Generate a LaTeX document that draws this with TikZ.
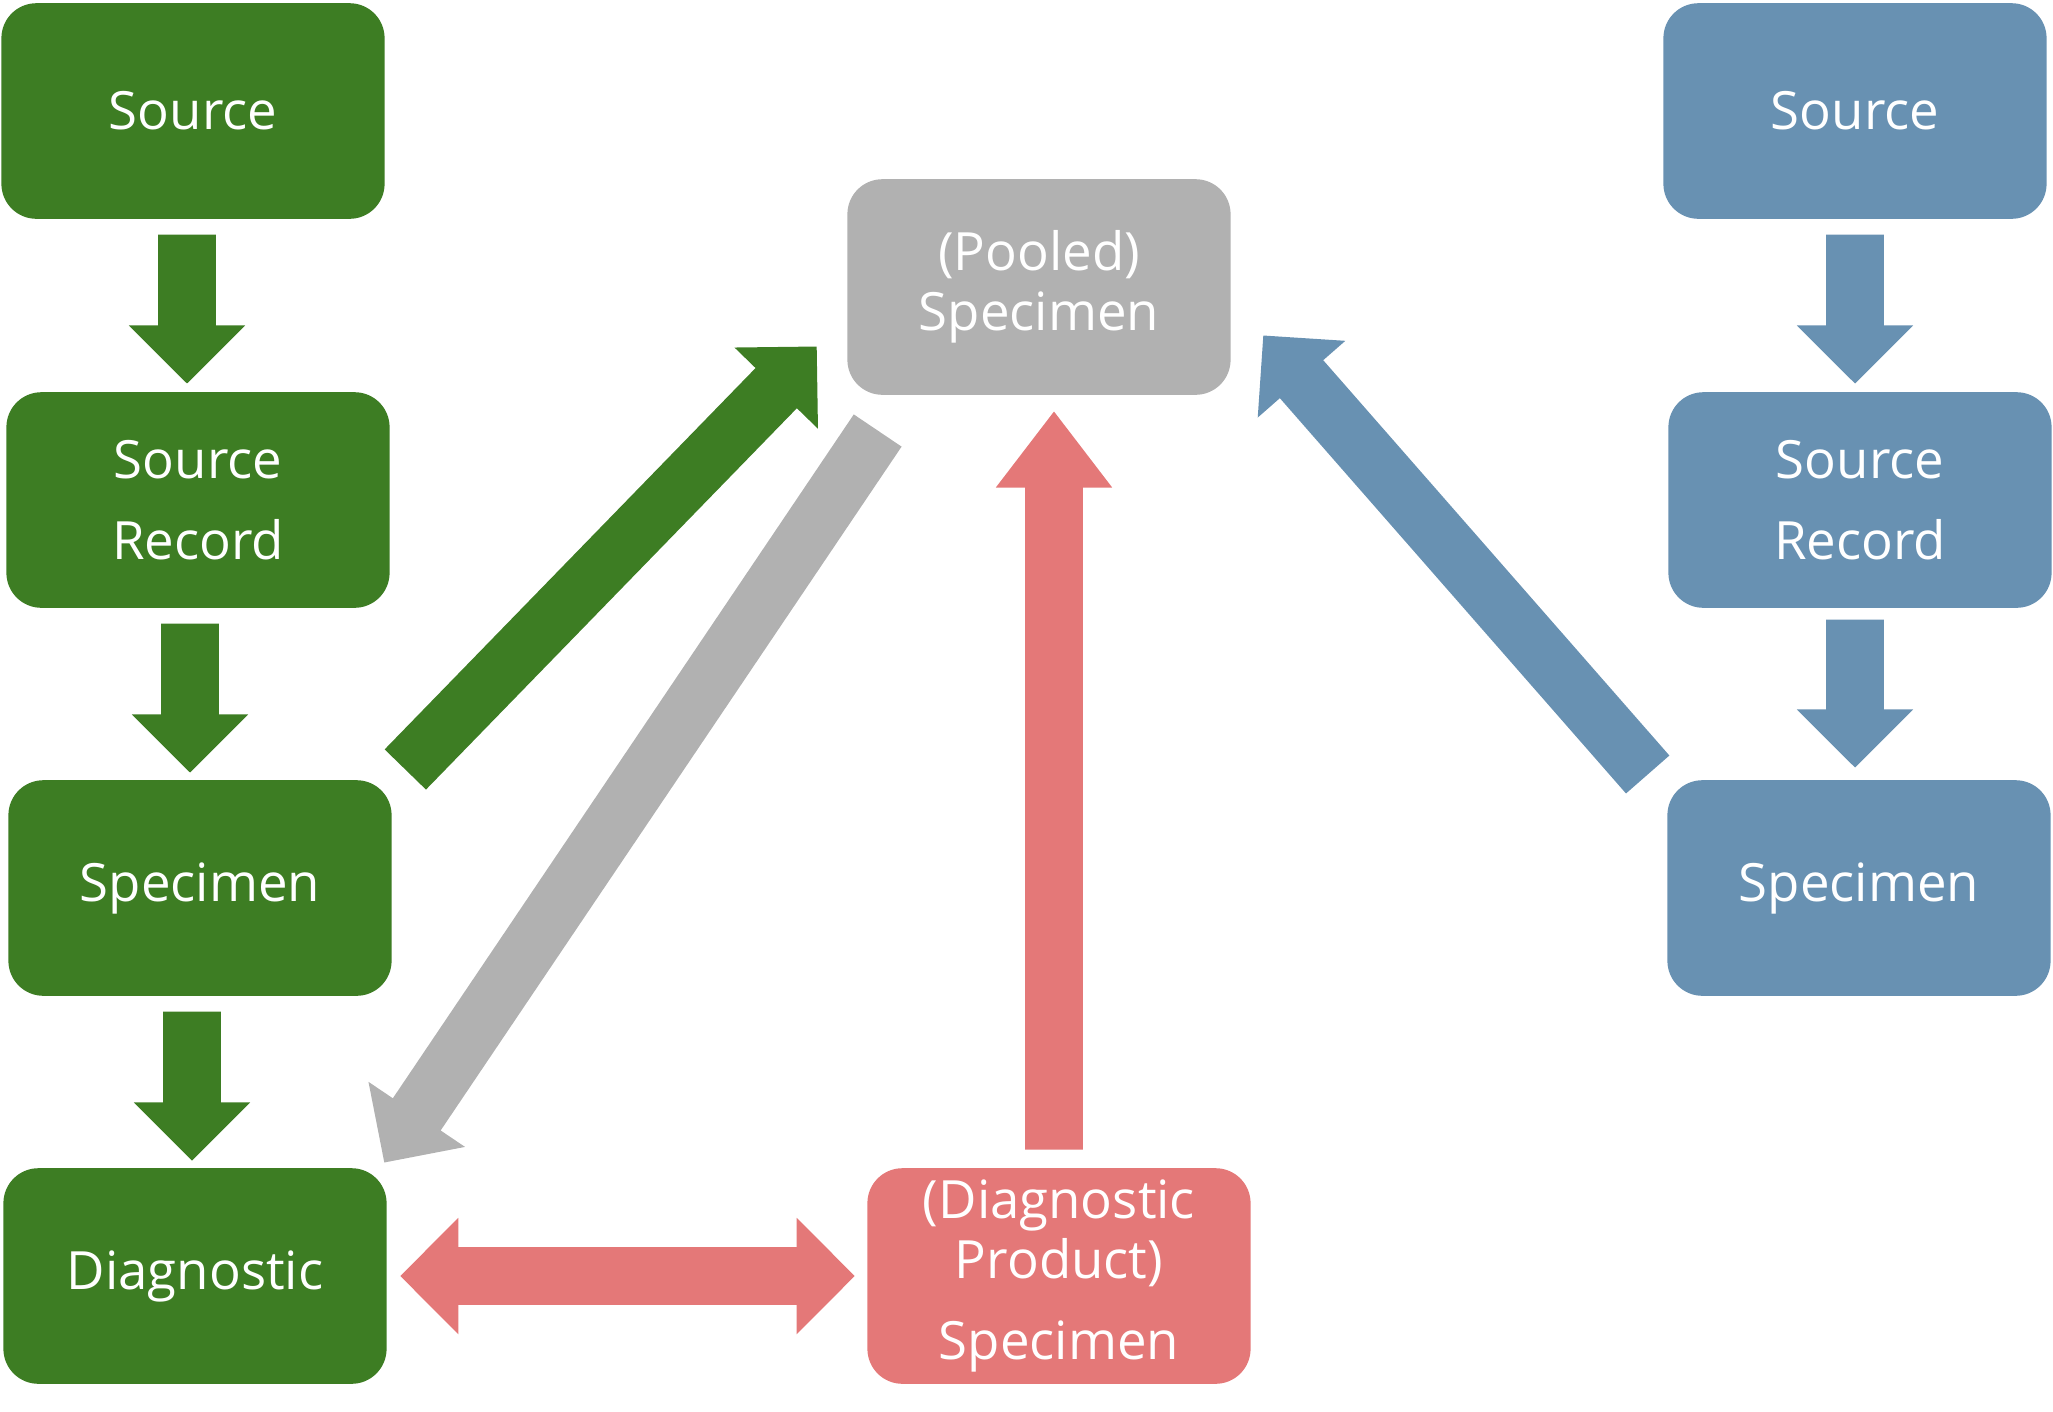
\documentclass[tikz,border=0pt]{standalone}
\usepackage{fontspec}
\setmainfont{Open Sans}
\usetikzlibrary{calc}
\definecolor{grn}{HTML}{3D7D23}
\definecolor{gry}{HTML}{B1B1B1}
\definecolor{rd}{HTML}{E47878}
\definecolor{blu}{HTML}{6891B2}
% block arrow: colour, tail, tip, head length
\newcommand{\barrow}[4]{%
  \path (#2) coordinate (ta) (#3) coordinate (tp) ($(tp)!#4!(ta)$) coordinate (hb);
  \fill[#1] ($(ta)!0.288cm!90:(tp)$) -- ($(hb)!0.288cm!90:(tp)$) -- ($(hb)!0.582cm!90:(tp)$)
    -- (tp) -- ($(hb)!0.582cm!-90:(tp)$) -- ($(hb)!0.288cm!-90:(tp)$) -- ($(ta)!0.288cm!-90:(tp)$) -- cycle;}
\begin{document}
\begin{tikzpicture}[x=0.01cm,y=-0.01cm,
  box/.style={rounded corners=0.35cm,minimum width=3.83cm,minimum height=2.155cm,inner sep=0pt,
    text=white,align=center,font=\fontsize{15}{17}\selectfont}]
  \useasboundingbox (0,0) rectangle (2053,1411);
  % left column
  \node[box,fill=grn] (srcG) at (193,111) {Source};
  \node[box,fill=grn] (recG) at (198,500) {Source\\[6pt]Record};
  \node[box,fill=grn] (specG) at (200,888) {Specimen};
  \node[box,fill=grn] (diagG) at (195,1276) {Diagnostic};
  % middle
  \node[box,fill=gry] (pooled) at (1039,287) {(Pooled)\\Specimen};
  \node[box,fill=rd] (diagprod) at (1059,1276) {(Diagnostic\\Product)\\[6pt]Specimen};
  % right column
  \node[box,fill=blu] (srcB) at (1855,111) {Source};
  \node[box,fill=blu] (recB) at (1860,500) {Source\\[6pt]Record};
  \node[box,fill=blu] (specB) at (1859,888) {Specimen};
  % arrows down the columns
  \barrow{grn}{$(srcG.south)+(-6,15)$}{$(ta |- recG.north)+(0,-8)$}{0.58cm}
  \barrow{grn}{$(recG.south)+(-8,15)$}{$(ta |- specG.north)+(0,-7)$}{0.58cm}
  \barrow{grn}{$(specG.south)+(-8,15)$}{$(ta |- diagG.north)+(0,-7)$}{0.58cm}
  \barrow{blu}{$(srcB.south)+(0,15)$}{$(ta |- recB.north)+(0,-8)$}{0.58cm}
  \barrow{blu}{$(recB.south)+(-5,11)$}{$(ta |- specB.north)+(0,-12)$}{0.58cm}
  % arrows to and from the pooled specimen
  \barrow{grn}{$(specG.north east)+(13,-10)$}{$(pooled.south west)+(-30,-49)$}{0.58cm}
  \barrow{gry}{$(pooled.south west)+(31,35)$}{$(diagG.north east)+(-3,-5)$}{0.58cm}
  \barrow{blu}{$(specB.north west)+(-19,-5)$}{$(pooled.south east)+(32,-60)$}{0.58cm}
  \barrow{rd}{$(diagprod.north)+(-5,-18)$}{$(ta |- pooled.south)+(0,16)$}{0.76cm}
  % double arrow
  \path (diagG.east) -- (diagprod.west) coordinate[pos=0.5] (mid);
  \barrow{rd}{$(mid)+(10,0)$}{$(diagG.east)+(13,0)$}{0.58cm}
  \barrow{rd}{$(mid)+(-10,0)$}{$(diagprod.west)+(-12,0)$}{0.58cm}
\end{tikzpicture}
\end{document}
